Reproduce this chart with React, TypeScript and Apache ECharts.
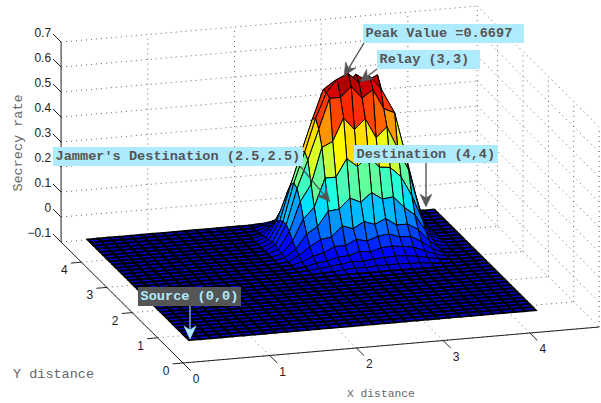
import React, { useEffect, useRef } from "react";
import * as echarts from "echarts";

const xTicks = [0, 1, 2, 3, 4];
const yTicks = [0, 1, 2, 3, 4];
const zTicks = [-0.1, 0, 0.1, 0.2, 0.3, 0.4, 0.5, 0.6, 0.7];
const zTickLabels = ["\u22120.1", "0", "0.1", "0.2", "0.3", "0.4", "0.5", "0.6", "0.7"];
const axisMax = 4.8;

const xGrid = [0.04,0.165,0.29,0.415,0.54,0.665,0.79,0.915,1.04,1.165,1.29,1.415,1.54,1.665,1.79,1.915,2.04,2.165,2.29,2.415,2.54,2.665,2.79,2.915,3.04,3.165,3.29,3.415,3.54,3.665,3.79,3.915,4.04];
const yGrid = [-0.1,0.025,0.15,0.275,0.4,0.525,0.65,0.775,0.9,1.025,1.15,1.275,1.4,1.525,1.65,1.775,1.9,2.025,2.15,2.275,2.4,2.525,2.65,2.775,2.9,3.025,3.15,3.275,3.4,3.525,3.65,3.775,3.9];

const floorHeight = 0;
const humpFirstColumn = 13;
const humpFirstRow = 15;
const humpHeights = [
  [0,0,0,0,.001,.002,.003,.003,.002,.003,.003,.002,.002,.001,0,0,0,0,0],
  [0,0,0,.001,.003,.005,.009,.012,.01,.014,.013,.014,.012,.01,.006,.002,0,0,0],
  [0,0,.001,.004,.008,.014,.018,.026,.022,.028,.03,.032,.03,.024,.016,.007,.001,0,0],
  [0,0,.002,.007,.017,.022,.034,.036,.05,.044,.056,.06,.054,.048,.03,.013,.002,0,0],
  [0,.001,.003,.014,.032,.043,.064,.064,.085,.075,.09,.095,.08,.078,.055,.023,.003,0,0],
  [0,.001,.005,.027,.058,.083,.089,.13,.115,.14,.125,.145,.115,.115,.09,.042,.006,.001,0],
  [0,.002,.008,.04,.096,.122,.18,.185,.225,.205,.24,.21,.215,.17,.135,.068,.009,.001,0],
  [0,.002,.012,.06,.144,.187,.3,.3,.37,.335,.375,.325,.32,.28,.2,.098,.014,.001,0],
  [0,.002,.018,.085,.2,.266,.41,.43,.52,.47,.51,.43,.47,.38,.29,.128,.02,.001,0],
  [0,.002,.023,.1,.24,.35,.47,.59,.59,.63,.58,.61,.53,.51,.34,.165,.021,.002,0],
  [0,.002,.02,.1,.25,.37,.5,.6,.65,.6697,.63,.65,.6,.52,.37,.17,.02,.002,0],
  [0,.002,.019,.09,.23,.36,.485,.6,.63,.6,.65,.62,.64,.48,.36,.16,.022,.001,0],
  [0,.001,.014,.077,.19,.29,.38,.5,.49,.52,.48,.5,.45,.41,.29,.13,.02,.001,0],
  [0,.001,.009,.054,.13,.2,.27,.36,.35,.37,.34,.33,.33,.28,.21,.09,.014,.001,0],
  [0,0,.004,.03,.08,.12,.16,.21,.2,.22,.21,.19,.2,.17,.13,.06,.01,0,0],
  [0,0,.002,.018,.048,.072,.094,.115,.11,.12,.115,.11,.11,.1,.075,.038,.005,0,0],
  [0,0,.001,.009,.026,.036,.047,.06,.06,.06,.06,.055,.055,.05,.04,.016,.002,0,0],
  [0,0,0,.003,.009,.014,.02,.024,.025,.025,.025,.024,.022,.02,.014,.004,0,0,0],
];

const colorMin = -0.05;
const colorMax = 0.6697;
const skyBlue = "#aeebff";
const slate = "#555555";
const annotations = [
  { text: "Peak Value =0.6697", box: [363, 24, 161, 19], from: [364, 43], tip: [344, 76], fill: skyBlue, ink: slate, arrow: slate, head: slate },
  { text: "Relay (3,3)", box: [377, 50, 103, 19], from: [377, 69], tip: [360, 82], fill: skyBlue, ink: slate, arrow: slate, head: slate },
  { text: "Jammer's Destination (2.5,2.5)", box: [53, 147, 250, 19], from: [300, 166], tip: [330, 202], fill: skyBlue, ink: slate, arrow: slate, head: slate },
  { text: "Destination (4,4)", box: [354, 145, 144, 18], from: [426, 163], tip: [426, 207], fill: skyBlue, ink: slate, arrow: slate, head: slate },
  { text: "Source (0,0)", box: [138, 287, 103, 19], from: [190, 306], tip: [190, 339], fill: slate, ink: skyBlue, arrow: "#7fb6d6", head: skyBlue },
];

function project(x: number, y: number, z: number): [number, number] {
  return [183 + 86.7 * x - 25.4 * y, 363 - 7.5 * x - 25.2 * y - 250 * (z + 0.1)];
}

function heightAt(i: number, j: number): number {
  const row = humpHeights[j - humpFirstRow];
  const v = row ? row[i - humpFirstColumn] : undefined;
  return v === undefined ? floorHeight : v;
}

function jet(v: number): string {
  const c = (n: number) => Math.round(Math.max(0, Math.min(1, n)) * 255);
  const r = c(Math.min(4 * v - 1.5, -4 * v + 4.5));
  const g = c(Math.min(4 * v - 0.5, -4 * v + 3.5));
  const b = c(Math.min(4 * v + 0.5, -4 * v + 2.5));
  return `rgb(${r},${g},${b})`;
}

export default function App() {
  const ref = useRef<HTMLDivElement>(null);
  useEffect(() => {
    const chart = echarts.init(ref.current!, null, { renderer: "svg" });

    const segs: any[] = [];
    const zLo = zTicks[0];
    const zHi = zTicks[zTicks.length - 1];
    const dot = 0, solid = 1;
    zTicks.forEach((z) => {
      segs.push([0, axisMax, z, axisMax, axisMax, z, dot]);
      segs.push([axisMax, axisMax, z, axisMax, 0, z, dot]);
    });
    xTicks.forEach((x) => {
      if (x > 0) segs.push([x, axisMax, zLo, x, axisMax, zHi, dot]);
      segs.push([x, 0, zLo, x, axisMax, zLo, dot]);
    });
    yTicks.forEach((y) => {
      segs.push([axisMax, y, zLo, axisMax, y, zHi, dot]);
      segs.push([0, y, zLo, axisMax, y, zLo, dot]);
    });
    segs.push([axisMax, axisMax, zLo, axisMax, axisMax, zHi, dot]);
    segs.push([0, axisMax, zLo, 0, axisMax, zHi, solid]);
    segs.push([0, 0, zLo, axisMax, 0, zLo, solid]);
    segs.push([0, 0, zLo, 0, axisMax, zLo, solid]);
    zTicks.forEach((z) => segs.push([0, axisMax, z, 0, axisMax + 0.32, z, solid]));
    xTicks.forEach((x) => segs.push([x, 0, zLo, x, -0.3, zLo, solid]));
    yTicks.forEach((y) => segs.push([0, y, zLo, -0.12, y, zLo, solid]));

    const renderSeg = (_: any, api: any) => {
      const a = api.coord(project(api.value(0), api.value(1), api.value(2)));
      const b = api.coord(project(api.value(3), api.value(4), api.value(5)));
      const isSolid = api.value(6) === solid;
      return {
        type: "line",
        shape: { x1: a[0], y1: a[1], x2: b[0], y2: b[1] },
        style: isSolid
          ? { stroke: "#222", lineWidth: 1 }
          : { stroke: "#666", lineWidth: 1, lineDash: [1, 4] },
      };
    };

    const cells: number[][] = [];
    for (let j = yGrid.length - 2; j >= 0; j--) {
      for (let i = xGrid.length - 2; i >= 0; i--) cells.push([i, j]);
    }
    const renderCell = (_: any, api: any) => {
      const i = api.value(0);
      const j = api.value(1);
      const corners = [[i, j], [i + 1, j], [i + 1, j + 1], [i, j + 1]];
      const points = corners.map(([a, b]) => api.coord(project(xGrid[a], yGrid[b], heightAt(a, b))));
      const mean = corners.reduce((s, [a, b]) => s + heightAt(a, b), 0) / 4;
      return {
        type: "polygon",
        shape: { points },
        style: {
          fill: jet((mean - colorMin) / (colorMax - colorMin)),
          stroke: "#000",
          lineWidth: mean < 0.004 ? 1.8 : 1,
        },
      };
    };

    const labels: any[] = [];
    xTicks.forEach((x) => {
      const p = project(x, 0, zLo);
      labels.push([p[0] + 13, p[1] + 16, String(x), "center"]);
    });
    yTicks.forEach((y) => {
      const p = project(0, y, zLo);
      labels.push([p[0] - 17, p[1] + 8, String(y), "center"]);
    });
    zTicks.forEach((z, k) => {
      const p = project(0, axisMax, z);
      labels.push([p[0] - 10, p[1] - 9, zTickLabels[k], "right"]);
    });
    const renderLabel = (_: any, api: any) => {
      const at = api.coord([api.value(0), api.value(1)]);
      return {
        type: "text",
        x: at[0],
        y: at[1],
        style: {
          text: labels[api.value(4)][2],
          align: labels[api.value(4)][3],
          verticalAlign: "middle",
          font: '12px "Liberation Sans"',
          fill: "#222",
        },
      };
    };

    const renderAnnotation = (_: any, api: any) => {
      const a = annotations[api.value(2)];
      const [bx, by, bw, bh] = a.box;
      const from = api.coord(a.from);
      const tip = api.coord(a.tip);
      const dx = tip[0] - from[0];
      const dy = tip[1] - from[1];
      const len = Math.hypot(dx, dy);
      const ux = dx / len, uy = dy / len;
      const back = [tip[0] - ux * 13, tip[1] - uy * 13];
      const notch = [tip[0] - ux * 9, tip[1] - uy * 9];
      return {
        type: "group",
        children: [
          { type: "line", shape: { x1: from[0], y1: from[1], x2: notch[0], y2: notch[1] }, style: { stroke: a.arrow, lineWidth: 1.4 } },
          {
            type: "polygon",
            shape: { points: [tip, [back[0] - uy * 6, back[1] + ux * 6], notch, [back[0] + uy * 6, back[1] - ux * 6]] },
            style: { fill: a.head, stroke: a.head, lineWidth: 0.5 },
          },
          { type: "rect", shape: { x: bx, y: by, width: bw, height: bh }, style: { fill: a.fill } },
          {
            type: "text",
            x: bx + 2.5,
            y: by + bh / 2,
            style: { text: a.text, align: "left", verticalAlign: "middle", font: 'bold 13.6px "Liberation Mono"', fill: a.ink },
          },
        ],
      };
    };

    const axisLabels = [
      { text: "Secrecy rate", x: 18, y: 143, rotation: Math.PI / 2, font: '13.5px "Liberation Mono"', anchor: "center" },
      { text: "Y distance", x: 13, y: 374, rotation: 0, font: '13.5px "Liberation Mono"', anchor: "left" },
      { text: "X distance", x: 347, y: 394, rotation: 0, font: '11.3px "Liberation Mono"', anchor: "left" },
    ];
    const renderAxisLabel = (_: any, api: any) => {
      const a = axisLabels[api.value(2)];
      const at = api.coord([a.x, a.y]);
      return {
        type: "text",
        x: at[0],
        y: at[1],
        rotation: a.rotation,
        style: { text: a.text, align: a.anchor, verticalAlign: "middle", font: a.font, fill: "#666" },
      };
    };

    const base = { type: "custom", silent: true, clip: false, animation: false, encode: { x: 0, y: 1 } };
    chart.setOption({
      animation: false,
      backgroundColor: "#fff",
      grid: { left: 0, right: 0, top: 0, bottom: 0 },
      xAxis: { type: "value", min: 0, max: 601, show: false },
      yAxis: { type: "value", min: 0, max: 403, inverse: true, show: false },
      series: [
        { ...base, renderItem: renderSeg, data: segs },
        { ...base, renderItem: renderLabel, data: labels.map((l, k) => [l[0], l[1], 0, 0, k]) },
        { ...base, renderItem: renderAxisLabel, data: axisLabels.map((a, k) => [a.x, a.y, k]) },
        { ...base, renderItem: renderCell, data: cells },
        { ...base, renderItem: renderAnnotation, data: annotations.map((a, k) => [a.box[0], a.box[1], k]) },
      ],
    } as any);
    return () => chart.dispose();
  }, []);
  return <div ref={ref} style={{ position: "absolute", left: 0, top: 0, width: 601, height: 403 }} />;
}
